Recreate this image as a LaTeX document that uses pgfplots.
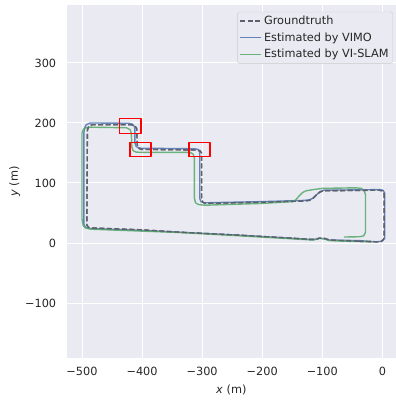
\documentclass[border=0pt]{standalone}
\usepackage{pgfplots}
\pgfplotsset{compat=1.18}
\usepackage{fontspec}
\setmainfont{DejaVu Sans}
\definecolor{bgc}{HTML}{EAEAF2}
\definecolor{txt}{HTML}{262626}
\definecolor{vimo}{HTML}{4C72B0}
\definecolor{vislam}{HTML}{55A868}
\definecolor{gtc}{HTML}{60606A}
\definecolor{legedge}{HTML}{CCCCCC}
\newcommand{\chartfont}{\fontsize{11.3}{13.6}\selectfont}
\begin{document}
\begin{tikzpicture}[font=\chartfont]
\begin{axis}[
  scale only axis,
  width=329.3pt, height=353.6pt,
  xmin=-525.5, xmax=22.7, ymin=-192, ymax=397,
  axis background/.style={fill=bgc},
  axis line style={draw=none},
  major tick length=0pt,
  grid=major,
  major grid style={white, line width=1pt},
  xtick={-500,-400,-300,-200,-100,0},
  xticklabels={−500,−400,−300,−200,−100,0},
  ytick={-100,0,100,200,300},
  yticklabels={−100,0,100,200,300},
  tick label style={font=\chartfont, text=txt},
  xticklabel style={yshift=-5pt},
  yticklabel style={xshift=-7pt},
  label style={font=\chartfont, text=txt},
  xlabel={\textit{x} (m)}, ylabel={\textit{y} (m)},
  xlabel style={yshift=-3pt},
  ylabel style={yshift=-2pt},
  legend cell align=left,
  legend style={at={(rel axis cs:0.99,0.98)}, anchor=north east,
    fill=bgc, draw=legedge, rounded corners=2pt, text=txt,
    inner sep=2pt, row sep=2.6pt,
    font=\chartfont},
  legend image code/.code={\draw[#1] (0pt,0pt) -- (21pt,0pt);},
  every axis plot/.append style={line join=round},
]
\addplot[gtc, line width=1.4pt, dash pattern=on 5pt off 2.5pt] coordinates {
(-40,3) (-10,2) (-2,2.5) (2,6) (3,12) (3,82) (0,87) (-6,88) (-98,87) (-104,85) (-110,80) (-116,74) (-122,71) (-130,70) (-200,68) (-294,66) (-299,68) (-301,73) (-301,150) (-304,154) (-310,155) (-402,156) (-407,159) (-408,164) (-409,191) (-412,195) (-418,197) (-484,197) (-489,194) (-491,188) (-492,30) (-489,26) (-482,25) (-400,22) (-337,18) (-237,13) (-150,8) (-120,6) (-112,6) (-105,8) (-97,8) (-88,5) (-40,3)};
\addlegendentry{Groundtruth}
\addplot[vimo, line width=1.4pt, opacity=0.85] coordinates {
(-38,4) (-10,2) (-1,3) (4,8) (4,83) (1,88) (-5,89) (-97,88) (-103,86) (-109,81) (-115,75) (-121,72) (-130,71) (-200,69) (-297,67) (-302,69) (-304,74) (-304,151) (-307,156) (-313,157) (-405,158) (-410,161) (-412,167) (-412,193) (-416,198) (-422,199.5) (-486,200) (-493,197) (-496,191) (-497,182) (-497,31) (-494,26) (-487,24) (-400,21) (-337,18) (-237,13) (-150,8) (-120,6) (-112,6) (-105,8) (-97,7) (-88,5) (-38,4)};
\addlegendentry{Estimated by VIMO}
\addplot[vislam, line width=1.4pt, opacity=0.85] coordinates {
(-17,2) (-60,3) (-88,4) (-97,7) (-105,8) (-115,5) (-150,7) (-237,12) (-337,17.5) (-484,23) (-494,25) (-498,29) (-500,40) (-500,183) (-498,189) (-493,192) (-486,193) (-426,192) (-420,189) (-418,183) (-417,160) (-415,154) (-410,151.5) (-400,151) (-320,151) (-315,148) (-313,142) (-313,75) (-311,67) (-306,64) (-295,63) (-200,66) (-150,69) (-145,71) (-139,78) (-133,84) (-127,87) (-115,89) (-100,91) (-45,92) (-35,91) (-30,87) (-28,80) (-28,18) (-31,12) (-38,10.5) (-64,10)};
\addlegendentry{Estimated by VI-SLAM}
\addplot[gtc, line width=1.3pt, dash pattern=on 5pt off 2.5pt, forget plot] coordinates {
(-40,3) (-10,2) (-2,2.5) (2,6) (3,12) (3,82) (0,87) (-6,88) (-98,87) (-104,85) (-110,80) (-116,74) (-122,71) (-130,70) (-200,68) (-294,66) (-299,68) (-301,73) (-301,150) (-304,154) (-310,155) (-402,156) (-407,159) (-408,164) (-409,191) (-412,195) (-418,197) (-484,197) (-489,194) (-491,188) (-492,30) (-489,26) (-482,25) (-400,22) (-337,18) (-237,13) (-150,8) (-120,6) (-112,6) (-105,8) (-97,8) (-88,5) (-40,3)};
\addplot[red, line width=1.3pt, forget plot] coordinates {(-438,183) (-402,183) (-402,208) (-438,208) (-438,183)};
\addplot[red, line width=1.3pt, forget plot] coordinates {(-420,144) (-385,144) (-385,167) (-420,167) (-420,144)};
\addplot[red, line width=1.3pt, forget plot] coordinates {(-322,144) (-287,144) (-287,167) (-322,167) (-322,144)};
\end{axis}
\pgfresetboundingbox
\path (-66.7pt,-41.7pt) rectangle (329.3pt,358.3pt);
\end{tikzpicture}
\end{document}
